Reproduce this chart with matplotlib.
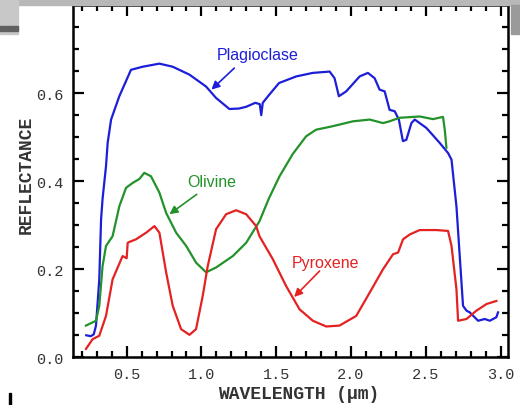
import numpy as np
import matplotlib
matplotlib.use("Agg")
import matplotlib.pyplot as plt
from matplotlib.ticker import MultipleLocator
from matplotlib.patches import Rectangle

# spectra (wavelength in um, reflectance)
plag_x = [0.23, 0.26, 0.28, 0.295, 0.317, 0.329, 0.339, 0.362, 0.373, 0.396, 0.451,
          0.529, 0.607, 0.719, 0.808, 0.92, 1.031, 1.098, 1.187, 1.25, 1.299, 1.36,
          1.39, 1.40, 1.41, 1.45, 1.519, 1.634, 1.745, 1.857, 1.89, 1.919, 1.968,
          2.058, 2.113, 2.158, 2.191, 2.225, 2.258, 2.292, 2.32, 2.347, 2.37, 2.404,
          2.426, 2.504, 2.593, 2.649, 2.672, 2.705, 2.727, 2.749, 2.772, 2.794,
          2.85, 2.894, 2.928, 2.972, 2.983]
plag_y = [0.05, 0.048, 0.052, 0.072, 0.177, 0.313, 0.36, 0.434, 0.487, 0.54, 0.593,
          0.653, 0.66, 0.667, 0.66, 0.642, 0.615, 0.589, 0.564, 0.565, 0.569, 0.578,
          0.575, 0.55, 0.578, 0.595, 0.623, 0.638, 0.646, 0.649, 0.634, 0.593, 0.604,
          0.638, 0.646, 0.634, 0.608, 0.604, 0.562, 0.559, 0.54, 0.491, 0.494, 0.532,
          0.54, 0.521, 0.487, 0.464, 0.449, 0.343, 0.23, 0.117, 0.106, 0.102,
          0.083, 0.087, 0.083, 0.091, 0.102]

oliv_x = [0.228, 0.295, 0.317, 0.339, 0.362, 0.406, 0.451, 0.496, 0.54, 0.585,
          0.618, 0.663, 0.719, 0.764, 0.831, 0.898, 0.964, 1.031, 1.098, 1.21,
          1.299, 1.388, 1.45, 1.522, 1.611, 1.7, 1.767, 1.879, 2.013, 2.125,
          2.214, 2.258, 2.325, 2.459, 2.548, 2.615, 2.627, 2.638]
oliv_y = [0.072, 0.083, 0.117, 0.207, 0.253, 0.275, 0.343, 0.385, 0.396, 0.405,
          0.419, 0.411, 0.374, 0.328, 0.283, 0.253, 0.215, 0.193, 0.204, 0.23,
          0.26, 0.309, 0.36, 0.411, 0.462, 0.502, 0.517, 0.525, 0.536, 0.54,
          0.532, 0.536, 0.544, 0.547, 0.541, 0.546, 0.517, 0.476]

pyro_x = [0.228, 0.272, 0.317, 0.362, 0.406, 0.473, 0.50, 0.507, 0.518, 0.563,
          0.63, 0.686, 0.719, 0.764, 0.808, 0.864, 0.92, 0.964, 1.009, 1.042,
          1.098, 1.165, 1.232, 1.299, 1.366, 1.388, 1.477, 1.566, 1.656, 1.745,
          1.834, 1.923, 2.035, 2.125, 2.214, 2.281, 2.315, 2.348, 2.393, 2.459,
          2.571, 2.649, 2.672, 2.705, 2.716, 2.772, 2.839, 2.906, 2.972]
pyro_y = [0.019, 0.041, 0.049, 0.094, 0.177, 0.23, 0.225, 0.26, 0.262, 0.268,
          0.283, 0.298, 0.283, 0.193, 0.117, 0.064, 0.051, 0.064, 0.14, 0.207,
          0.291, 0.325, 0.334, 0.325, 0.298, 0.275, 0.223, 0.162, 0.109, 0.083,
          0.070, 0.072, 0.094, 0.147, 0.2, 0.234, 0.238, 0.268, 0.279, 0.289,
          0.289, 0.287, 0.253, 0.155, 0.083, 0.087, 0.106, 0.121, 0.128]

# label text position, arrow tail, arrow head (data units)
names = ["Plagioclase", "Olivine", "Pyroxene"]
label_xy = [(1.375, 0.687), (1.067, 0.399), (1.83, 0.216)]
tail_xy = [(1.22, 0.657), (0.968, 0.370), (1.79, 0.196)]
head_xy = [(1.067, 0.608), (0.786, 0.325), (1.62, 0.137)]

blue = "#1c1ed8"
green = "#23922a"
red = "#e42222"
colors = [blue, green, red]

fig = plt.figure(figsize=(5.2, 4.06), dpi=100)

# slide artefacts around the plot
fig.patches.append(Rectangle((0, 0.985), 1, 0.015, transform=fig.transFigure,
                             color="#b8b8b8", zorder=0))
fig.patches.append(Rectangle((0, 0.915), 0.035, 0.085, transform=fig.transFigure,
                             color="#c8c8c8", zorder=0))
fig.patches.append(Rectangle((0, 0.922), 0.035, 0.012, transform=fig.transFigure,
                             color="#606060", zorder=0))
fig.patches.append(Rectangle((0.983, 0.915), 0.017, 0.07, transform=fig.transFigure,
                             color="#9a9a9a", zorder=0))
fig.patches.append(Rectangle((0.017, 0.0), 0.005, 0.03, transform=fig.transFigure,
                             color="black", zorder=0))

ax = fig.add_axes([0.140, 0.1175, 0.837, 0.8675])

ax.plot(plag_x, plag_y, color=blue, lw=1.6)
ax.plot(oliv_x, oliv_y, color=green, lw=1.6)
ax.plot(pyro_x, pyro_y, color=red, lw=1.6)

ax.set_xlim(0.14, 3.05)
ax.set_ylim(0, 0.8)
ax.xaxis.set_minor_locator(MultipleLocator(0.1))
ax.yaxis.set_minor_locator(MultipleLocator(0.05))
ax.set_yticks([0.0, 0.2, 0.4, 0.6])
ax.set_xticks([0.5, 1.0, 1.5, 2.0, 2.5, 3.0])

mono = "Liberation Mono"
ax.tick_params(which="both", direction="in", top=True, right=True, width=1.6,
               labelsize=11, colors="black", labelcolor="#333333")
ax.tick_params(which="major", length=8, pad=7)
ax.tick_params(which="minor", length=4)
for lab in ax.get_xticklabels() + ax.get_yticklabels():
    lab.set_fontfamily(mono)
for s in ax.spines.values():
    s.set_linewidth(1.8)

ax.set_xlabel("WAVELENGTH (\u03bcm)", fontfamily=mono, fontweight="bold",
              fontsize=13, color="#333333")
ax.set_ylabel("REFLECTANCE", fontfamily=mono, fontweight="bold",
              fontsize=13, color="#333333")
ax.xaxis.set_label_coords(0.52, -0.078)
ax.yaxis.set_label_coords(-0.088, 0.52)

sans = "Liberation Sans"
for name, c, lxy, txy, hxy in zip(names, colors, label_xy, tail_xy, head_xy):
    ax.text(lxy[0], lxy[1], name, color=c, fontsize=11.5, fontfamily=sans,
            ha="center", va="center")
    ax.annotate("", xy=hxy, xytext=txy,
                arrowprops=dict(arrowstyle="-|>", color=c, lw=1.2,
                                mutation_scale=12, shrinkA=0, shrinkB=0))

fig.savefig("out.png", dpi=100)
